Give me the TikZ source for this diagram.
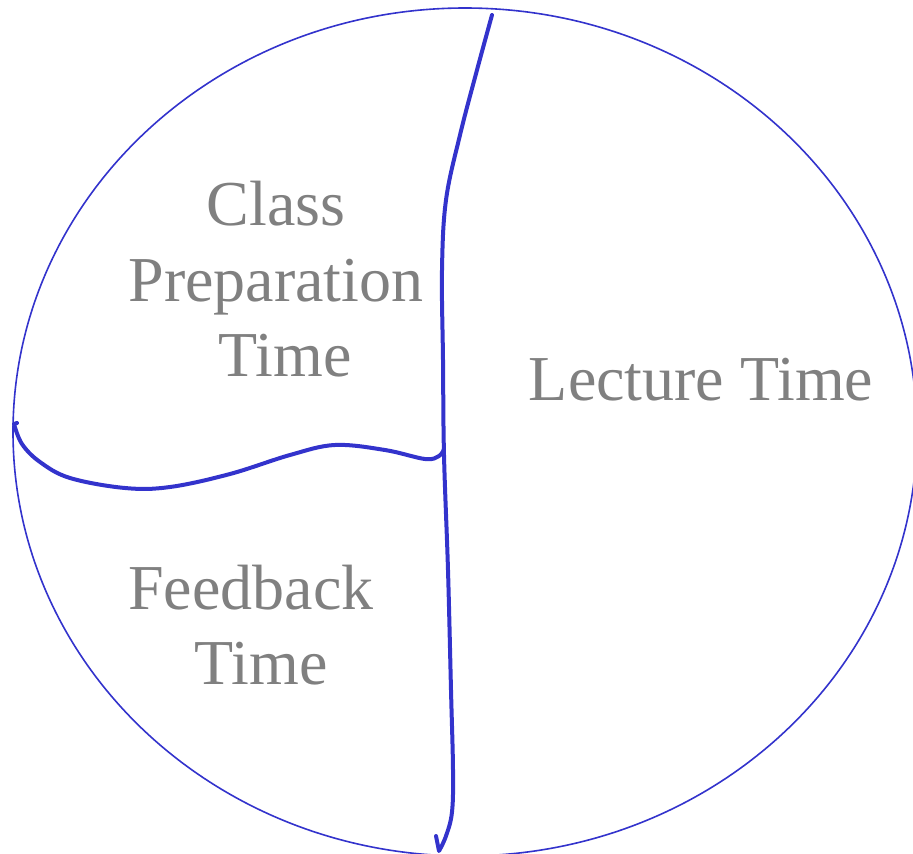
\documentclass[tikz,border=0pt]{standalone}
\usepackage{fontspec}
\setmainfont{Liberation Serif}
\definecolor{penblue}{RGB}{51,51,204}
\definecolor{labelgray}{RGB}{128,128,128}
\tikzset{
  pen/.style={draw=penblue, line width=4pt, line cap=round, line join=round},
  rim/.style={draw=penblue, line width=1.6pt},
  lbl/.style={text=labelgray, anchor=base, inner sep=0pt, font=\fontsize{64}{75}\selectfont}
}
\begin{document}
\begin{tikzpicture}[x=1pt,y=-1pt]
\useasboundingbox (0,0) rectangle (913,854);
\draw[rim] (465,432) ellipse [x radius=452, y radius=424];
% vertical divider
\draw[pen] plot[smooth, tension=0.6] coordinates {(492,15) (477,70) (460,135) (446,200) (442,270) (443,360) (444,455) (448,570) (451,690) (453,770) (452,812) (446,836) (439,851)} -- (436,836);
% horizontal divider
\draw[pen] (17,423) -- (14,424) plot[smooth, tension=0.6] coordinates {(14,424) (22,444) (40,462) (70,478) (125,488) (170,487) (230,474) (290,455) (335,445) (385,450) (425,459) (439,456) (444,449)};
\node[lbl] (c1) at (276,225) {Class};
\node[lbl] (c2) at (276,301) {Preparation};
\node[lbl] (c3) at (285,376) {Time};
\node[lbl] (lt) at (701,400) {Lecture Time};
\node[lbl] (f1) at (251,609) {Feedback};
\node[lbl] (f2) at (261,684) {Time};
\end{tikzpicture}
\end{document}
